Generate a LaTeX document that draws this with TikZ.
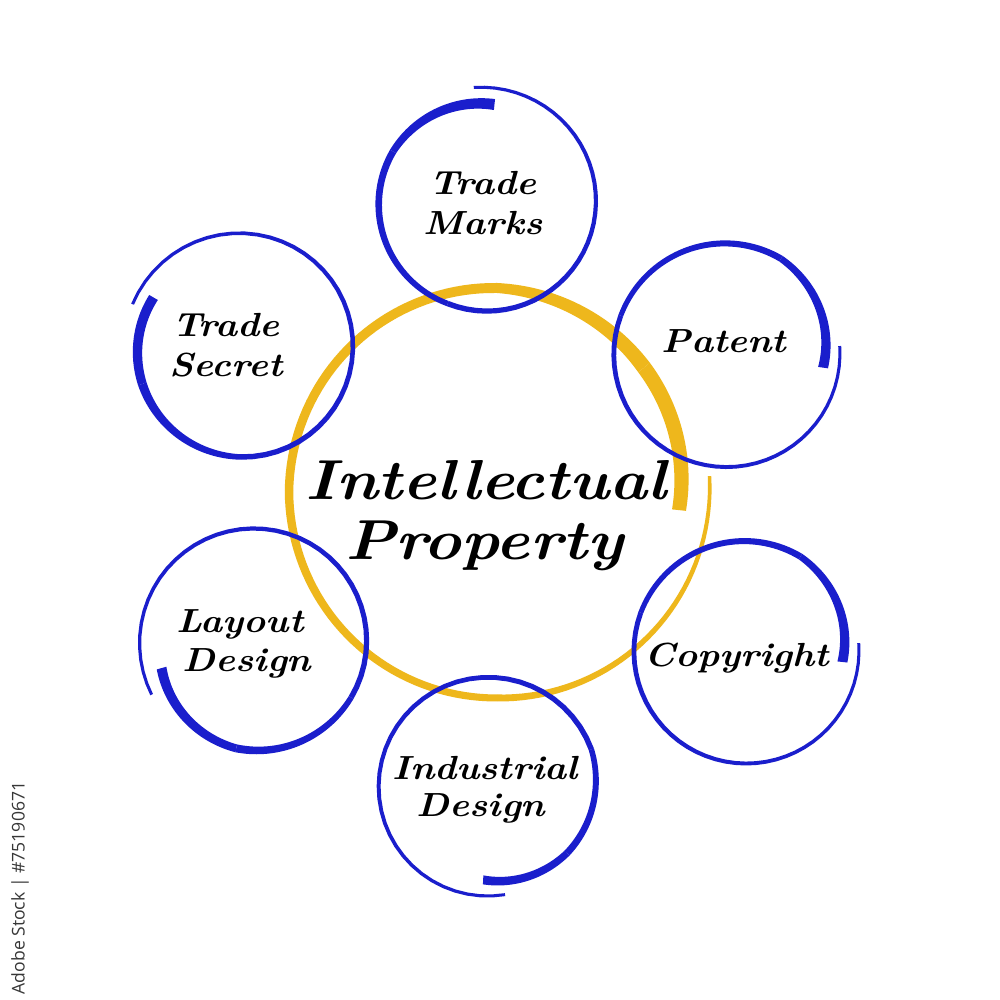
\documentclass[tikz,border=0pt]{standalone}
\usepackage{fontspec}
\usepackage{graphicx}
\newfontfamily\wmfont{Open Sans}
\definecolor{ipblue}{RGB}{26,30,204}
\definecolor{ipyellow}{RGB}{238,183,28}
\definecolor{wmgray}{RGB}{55,55,55}
\newcommand\hs[1]{\scalebox{1.12}[1]{#1}}
\newcommand\hb[1]{\scalebox{1.14}[1]{#1}}
% tapered brush segment: cx cy t1 t2 r1 r2 w1 w2
\newcommand\brushseg[8]{%
  \def\bsR{(#5+(#6-(#5))*(\t-(#3))/((#4)-(#3)))}%
  \def\bsW{(#7+(#8-(#7))*(\t-(#3))/((#4)-(#3)))}%
  \fill plot[domain=#3:#4, samples=40, variable=\t]
      ({#1+(\bsR+0.5*\bsW)*cos(\t)},{#2+(\bsR+0.5*\bsW)*sin(\t)})
    -- plot[domain=#4:#3, samples=40, variable=\t]
      ({#1+(\bsR-0.5*\bsW)*cos(\t)},{#2+(\bsR-0.5*\bsW)*sin(\t)})
    -- cycle;}
\begin{document}
\begin{tikzpicture}[x=0.01cm,y=0.01cm,
  lbl/.style={font=\fontsize{9.5}{11.4}\selectfont\bfseries\itshape, anchor=base, inner sep=0pt, text=black},
  big/.style={font=\fontsize{16}{18}\selectfont\bfseries\itshape, anchor=base, inner sep=0pt, text=black},
  wm/.style={font=\wmfont\fontsize{5}{6}\selectfont, text=wmgray, rotate=90, inner sep=0pt}]
\useasboundingbox[fill=white] (0,0) rectangle (1000,1000);

% central yellow circle
\begin{scope}[fill=ipyellow]
\brushseg{497}{509}{-366}{-320}{183}{192}{14}{15}
\brushseg{497}{509}{-320}{-270}{192}{203}{15}{10}
\brushseg{497}{509}{-270}{-180}{203}{208}{10}{8.5}
\brushseg{497}{509}{-180}{-90}{208}{207}{8.5}{7}
\brushseg{497}{509}{-90}{4}{207}{213}{7}{3.5}
\end{scope}

\begin{scope}[fill=ipblue]
% Trade Marks
\brushseg{484}{796}{84}{150}{100}{105}{11}{7}
\brushseg{484}{796}{150}{250}{105}{106}{7}{5.5}
\brushseg{484}{796}{250}{455}{106}{117}{5.5}{3}
% Patent
\brushseg{726}{646}{-368}{-300}{98}{110}{10}{6.5}
\brushseg{726}{646}{-300}{-200}{110}{112}{6.5}{5}
\brushseg{726}{646}{-200}{4}{112}{114}{5}{3}
% Trade Secret
\brushseg{241}{652}{-210}{-160}{101}{105}{10}{9}
\brushseg{241}{652}{-160}{-90}{105}{109}{9}{5.5}
\brushseg{241}{652}{-90}{158}{109}{117}{5.5}{3}
% Layout Design
\brushseg{255}{358}{195.6}{260}{97}{108}{10}{8}
\brushseg{255}{358}{260}{330}{108}{111}{8}{5.5}
\brushseg{255}{358}{330}{567}{111}{116}{5.5}{3}
% Industrial Design
\brushseg{488}{213}{267}{320}{93}{103}{9}{7}
\brushseg{488}{213}{320}{380}{103}{110}{7}{5.5}
\brushseg{488}{213}{380}{639}{110}{109}{5.5}{3}
% Copyright
\brushseg{746}{349}{-366.5}{-300}{97}{109}{10}{6.5}
\brushseg{746}{349}{-300}{-200}{109}{112}{6.5}{5}
\brushseg{746}{349}{-200}{4}{112}{113}{5}{3}
\end{scope}

% labels
\node[big] (ip1) at (486,500) {\hb{Intellectual}};
\node[big] (ip2) at (484,440) {\hb{Property}};
\node[lbl] (tm1) at (483,805) {\hs{Trade}};
\node[lbl] (tm2) at (483,765) {\hs{Marks}};
\node[lbl] (pat) at (724,647) {\hs{Patent}};
\node[lbl] (ts1) at (226,663) {\hs{Trade}};
\node[lbl] (ts2) at (226,623) {\hs{Secret}};
\node[lbl] (ld1) at (240,367) {\hs{Layout}};
\node[lbl] (ld2) at (247,328) {\hs{Design}};
\node[lbl] (id1) at (485,220) {\hs{Industrial}};
\node[lbl] (id2) at (481,183) {\hs{Design}};
\node[lbl] (cr) at (737,333) {\hs{Copyright}};

\node[wm] (wm) at (20,112) {Adobe Stock | \#75190671};
\end{tikzpicture}
\end{document}
